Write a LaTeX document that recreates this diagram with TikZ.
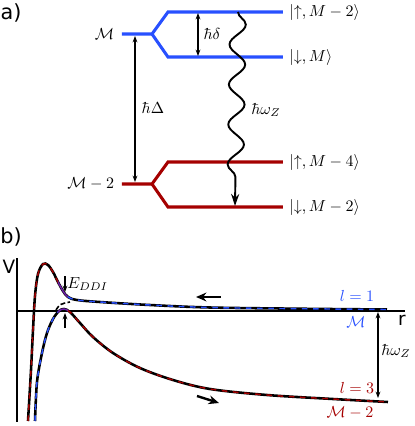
\documentclass[tikz,border=0pt]{standalone}
\usepackage{fontspec}
\newfontfamily\dejavu{DejaVu Sans}
\usetikzlibrary{arrows.meta,decorations.pathmorphing}
\definecolor{lvblue}{RGB}{40,80,255}
\definecolor{lvred}{RGB}{165,0,0}
\definecolor{lvpurple}{RGB}{110,30,170}
\begin{document}
\begin{tikzpicture}[x=0.625pt,y=-0.625pt,
  level/.style={line width=1.9pt, line join=miter},
  dimarrow/.style={{Stealth[length=4pt,width=3pt]}-{Stealth[length=4pt,width=3pt]}, line width=0.7pt},
  onearrow/.style={-{Stealth[length=4pt,width=3pt]}, line width=0.7pt},
  bigarrow/.style={-{Stealth[length=6.5pt,width=5.5pt]}, line width=1.5pt},
  panel/.style={font=\dejavu\fontsize{13}{15}\selectfont},
  axlabel/.style={font=\dejavu\fontsize{11.5}{13}\selectfont},
  axis/.style={line width=1pt},
  curveblack/.style={line width=1.6pt, black},
  curvedash/.style={line width=0.9pt, dash pattern=on 3.5pt off 3.5pt}]
\useasboundingbox (0,0) rectangle (415,426);

% ---------- panel a ----------
\node[panel] (la) at (11,13) {a)};
\coordinate (mB) at (122,34);
\coordinate (fB) at (152,34);
\coordinate (uB) at (168,12);
\coordinate (dB) at (168,57);
\coordinate (uBe) at (283,12);
\coordinate (dBe) at (283,57);
\coordinate (mR) at (122,184);
\coordinate (fR) at (152,184);
\coordinate (uR) at (168,162);
\coordinate (dR) at (168,207);
\coordinate (uRe) at (283,162);
\coordinate (dRe) at (283,207);
\draw[level, lvblue] (mB) -- (fB) -- (uB) -- (uBe);
\draw[level, lvblue] (fB) -- (dB) -- (dBe);
\draw[level, lvred] (mR) -- (fR) -- (uR) -- (uRe);
\draw[level, lvred] (fR) -- (dR) -- (dRe);

\node[anchor=east, inner sep=1pt] (tM) at (116,34) {$\mathcal{M}$};
\node[anchor=east, inner sep=1pt] (tM2) at (116,184) {$\mathcal{M}-2$};

\coordinate (DeltaTop) at (135,36);
\coordinate (DeltaBot) at (135,182);
\draw[dimarrow] (DeltaTop) -- (DeltaBot);
\node (tDelta) at (153,108) {$\hbar\Delta$};

\coordinate (dTop) at (198,13);
\coordinate (dBot) at (198,56);
\draw[dimarrow] (dTop) -- (dBot);
\node (tdelta) at (212,34) {$\hbar\delta$};

\coordinate (wTop) at (238,12);
\coordinate (wBot) at (235,206);
\draw[line width=1.2pt, -{Stealth[length=7.5pt,width=5pt]},
  decoration={snake, amplitude=5pt, segment length=25pt, post length=9pt},
  decorate] (wTop) -- (wBot);
\node (tomega) at (266,110) {$\hbar\omega_Z$};

\node[anchor=west, inner sep=0pt] (s1) at (289,12) {$|{\uparrow},M-2\rangle$};
\node[anchor=west, inner sep=0pt] (s2) at (289,57) {$|{\downarrow},M\rangle$};
\node[anchor=west, inner sep=0pt] (s3) at (289,162) {$|{\uparrow},M-4\rangle$};
\node[anchor=west, inner sep=0pt] (s4) at (289,207) {$|{\downarrow},M-2\rangle$};

% ---------- panel b ----------
\node[panel] (lb) at (11,237) {b)};
\node[axlabel] (lV) at (9,267) {V};
\node[axlabel] (lr) at (402,320) {r};
\coordinate (yTop) at (17,258);
\coordinate (yBot) at (17,422);
\coordinate (xL) at (17,311);
\coordinate (xR) at (405,311);
\draw[axis] (yTop) -- (yBot);
\draw[axis] (xL) -- (xR);

\def\uppercurve{plot[smooth, tension=0.55] coordinates {(28,421) (31,370) (33,330) (35,296) (38,274) (43,264) (48,265) (53,272) (58,282) (63,291) (68,297) (77,300) (100,302) (150,305) (210,307.5) (300,308.7) (387,309.5)}}
\def\lowercurve{plot[smooth, tension=0.55] coordinates {(35,421) (37,382) (42,353) (47,333) (53,319) (59,311) (64,309) (70,312) (80,323) (93,337) (113,353) (140,368) (173,380) (210,389) (267,395) (333,399) (388,402)}}

\draw[curveblack] \uppercurve;
\draw[curveblack] \lowercurve;
% coloured dashes
\begin{scope}
  \clip (0,250) rectangle (58,426);
  \draw[curvedash, lvred] \uppercurve;
  \draw[curvedash, lvblue] \lowercurve;
\end{scope}
\begin{scope}
  \clip (58,250) rectangle (68,426);
  \draw[curvedash, dash pattern=, lvpurple] \uppercurve;
  \draw[curvedash, dash pattern=, lvpurple] \lowercurve;
\end{scope}
\begin{scope}
  \clip (68,250) rectangle (415,426);
  \draw[curvedash, lvblue] \uppercurve;
  \draw[curvedash, lvred] \lowercurve;
\end{scope}
% diabatic crossing hint
\coordinate (cA) at (56,310);
\coordinate (cB) at (70,302);
\draw[line width=1pt, dash pattern=on 3pt off 1.5pt] (cA) .. controls (60,304) .. (cB);

\coordinate (eTop) at (65,276);
\coordinate (eTopEnd) at (65,292);
\coordinate (eBot) at (65,328);
\coordinate (eBotEnd) at (65,313);
\draw[onearrow] (eTop) -- (eTopEnd);
\draw[onearrow] (eBot) -- (eBotEnd);
\node[anchor=west, inner sep=0pt] (tE) at (67,284) {$E_{DDI}$};

\coordinate (a1s) at (221,297);
\coordinate (a1e) at (196,297);
\draw[bigarrow] (a1s) -- (a1e);
\coordinate (a2s) at (197,396);
\coordinate (a2e) at (219,403);
\draw[bigarrow] (a2s) -- (a2e);

\node[text=lvblue] (tl1) at (357,296) {$l=1$};
\node[text=lvblue] (tMb) at (356,322) {$\mathcal{M}$};
\node[text=lvred] (tl3) at (357,388) {$l=3$};
\node[text=lvred] (tM2b) at (350,413) {$\mathcal{M}-2$};

\coordinate (hTop) at (378,312);
\coordinate (hBot) at (378,398);
\draw[dimarrow] (hTop) -- (hBot);
\node (thw) at (396,351) {$\hbar\omega_Z$};
\end{tikzpicture}
\end{document}
